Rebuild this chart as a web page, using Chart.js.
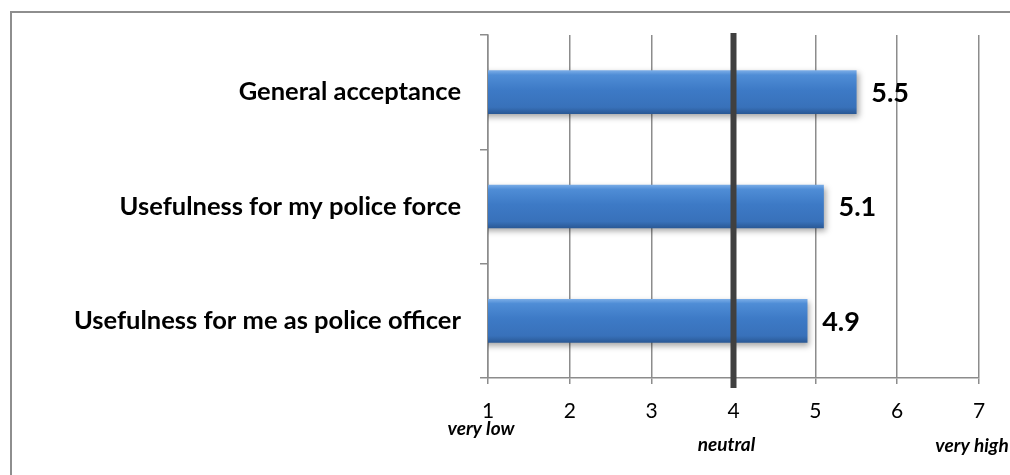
<!DOCTYPE html>
<html>
<head>
<meta charset="utf-8">
<script src="https://cdn.jsdelivr.net/npm/chart.js@4.4.1/dist/chart.umd.min.js"></script>
<style>
  body { margin: 0; background: #fff; overflow: hidden; }
  #frame { position: absolute; left: 10px; top: 11px; width: 1100px; height: 600px;
           border-left: 2px solid #8e8e8e; border-top: 2px solid #8e8e8e; }
  #wrap { position: absolute; left: 0; top: 0; width: 1010px; height: 475px; }
</style>
</head>
<body>
<div id="frame"></div>
<div id="wrap"><canvas id="acceptanceChart" width="1010" height="475"></canvas></div>
<script>
// Mean ratings on a 1-7 scale
const categories = ["General acceptance", "Usefulness for my police force", "Usefulness for me as police officer"];
const ratings = [5.5, 5.1, 4.9];
const scaleTicks = [1, 2, 3, 4, 5, 6, 7];
const anchorValues = [1, 4, 7];
const anchorLabels = ["very low", "neutral", "very high"];
const neutralValue = 4;

const FONT = "Lato, 'Open Sans', sans-serif";
const GRID = "#8c8c8c";

// Per-bar vertical gradient plus a soft drop shadow
const barStyle = {
  id: "barStyle",
  beforeDatasetDraw(chart, args) {
    const ctx = chart.ctx;
    args.meta.data.forEach(bar => {
      const top = bar.y - bar.height / 2;
      const bottom = bar.y + bar.height / 2;
      const g = ctx.createLinearGradient(0, top, 0, bottom);
      g.addColorStop(0, "#78abe6");
      g.addColorStop(0.1, "#4f8dd6");
      g.addColorStop(0.45, "#3d7ac6");
      g.addColorStop(0.85, "#3871ba");
      g.addColorStop(1, "#2a5996");
      bar.options = Object.assign({}, bar.options, { backgroundColor: g });
    });
    ctx.save();
    ctx.shadowColor = "rgba(0,0,0,0.35)";
    ctx.shadowBlur = 6;
    ctx.shadowOffsetX = 2;
    ctx.shadowOffsetY = 3;
  },
  afterDatasetDraw(chart) {
    chart.ctx.restore();
  }
};

// Neutral reference line, value labels and the scale anchors
const overlay = {
  id: "overlay",
  afterDatasetsDraw(chart) {
    const ctx = chart.ctx;
    const xs = chart.scales.x;
    const area = chart.chartArea;

    const nx = xs.getPixelForValue(neutralValue);
    ctx.save();
    ctx.strokeStyle = "#404040";
    ctx.lineWidth = 6;
    ctx.beginPath();
    ctx.moveTo(nx, area.top - 2);
    ctx.lineTo(nx, area.bottom + 10);
    ctx.stroke();

    ctx.fillStyle = "#000";
    ctx.font = "bold 27px " + FONT;
    ctx.textAlign = "left";
    ctx.textBaseline = "middle";
    chart.getDatasetMeta(0).data.forEach((bar, i) => {
      ctx.fillText(ratings[i].toFixed(1), bar.x + 15, bar.y + 1);
    });

    // "very low" sits a little higher than the other two anchors
    ctx.font = "italic bold 19px " + FONT;
    ctx.textAlign = "center";
    const dy = [51, 67, 68];
    anchorValues.forEach((v, i) => {
      ctx.fillText(anchorLabels[i], xs.getPixelForValue(v) - 7, area.bottom + dy[i]);
    });
    ctx.restore();
  }
};

new Chart(document.getElementById("acceptanceChart"), {
  type: "bar",
  data: {
    labels: categories,
    datasets: [{
      data: ratings,
      backgroundColor: "#3f7dc8",
      borderWidth: 0,
      barThickness: 43
    }]
  },
  options: {
    indexAxis: "y",
    responsive: false,
    animation: false,
    events: [],
    layout: { padding: { top: 35, right: 31, left: 0, bottom: 0 } },
    plugins: { legend: { display: false }, tooltip: { enabled: false } },
    scales: {
      x: {
        min: 1,
        max: 7,
        grid: { color: GRID, lineWidth: 1.5, tickLength: 6 },
        border: { color: GRID, width: 1.5 },
        ticks: { color: "#000", font: { family: FONT, size: 21 }, padding: 15 },
        afterBuildTicks(scale) { scale.ticks = scaleTicks.map(v => ({ value: v })); },
        afterFit(scale) { scale.height = 97; }
      },
      y: {
        grid: { drawOnChartArea: false, tickLength: 8, color: GRID, lineWidth: 1.5, offset: true },
        border: { color: GRID, width: 1.5 },
        ticks: { color: "#000", font: { family: FONT, size: 25.5, weight: "bold" }, padding: 19 },
        afterFit(scale) { scale.width = 488; }
      }
    }
  },
  plugins: [barStyle, overlay]
});
</script>
</body>
</html>
